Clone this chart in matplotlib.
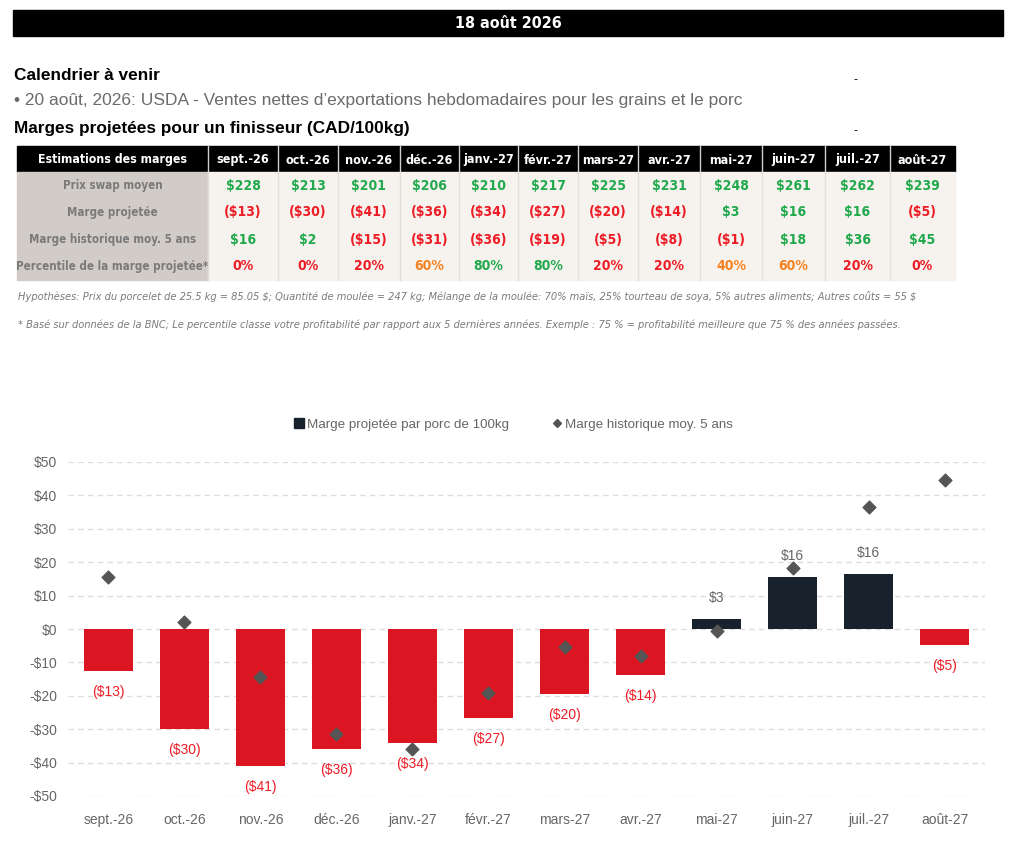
import matplotlib.pyplot as plt
from matplotlib.patches import Rectangle
from matplotlib.lines import Line2D
import numpy as np

plt.rcParams['text.parse_math'] = False

# data
months = ['sept.-26', 'oct.-26', 'nov.-26', 'déc.-26', 'janv.-27', 'févr.-27',
          'mars-27', 'avr.-27', 'mai-27', 'juin-27', 'juil.-27', 'août-27']
swap_price = [228, 213, 201, 206, 210, 217, 225, 231, 248, 261, 262, 239]
marge_table = [-13, -30, -41, -36, -34, -27, -20, -14, 3, 16, 16, -5]
hist_table = [16, 2, -15, -31, -36, -19, -5, -8, -1, 18, 36, 45]
percentile = [0, 0, 20, 60, 80, 80, 20, 20, 40, 60, 20, 0]
row_labels = ['Prix swap moyen', 'Marge projetée', 'Marge historique moy. 5 ans',
              'Percentile de la marge projetée*']

marge = [-12.6, -29.9, -41.0, -35.9, -34.1, -26.6, -19.5, -13.9, 3.1, 15.6, 16.6, -4.8]
hist = [15.6, 2.2, -14.5, -31.3, -36.0, -19.2, -5.3, -8.1, -0.5, 18.4, 36.6, 44.5]
yticks = [50, 40, 30, 20, 10, 0, -10, -20, -30, -40, -50]

GREEN = '#22a94d'
RED = '#ee1c25'
ORANGE = '#f58220'
NAVY = '#17222d'
BARRED = '#dc1523'

SANS = ['Liberation Sans', 'DejaVu Sans']


def money(v):
    return f'${v}' if v >= 0 else f'(${-v})'


def money_color(v):
    return GREEN if v >= 0 else RED


def pct_color(p):
    if p <= 20:
        return RED
    if p <= 60:
        return ORANGE
    return GREEN


fig = plt.figure(figsize=(10.24, 8.58), dpi=100)
fig.patch.set_facecolor('white')

# overlay axes in pixel coordinates for the header & table
ov = fig.add_axes([0, 0, 1, 1])
ov.set_xlim(0, 1024)
ov.set_ylim(858, 0)
ov.axis('off')

ov.add_patch(Rectangle((13, 10), 990, 26, color='black'))
ov.text(508, 23, '18 août 2026', color='white', fontsize=11.5, fontweight='bold',
        ha='center', va='center', family='DejaVu Sans', stretch='condensed')

ov.text(14, 76, 'Calendrier à venir', fontsize=12.4, fontweight='bold', va='center', family=SANS)
ov.text(14, 101, '• 20 août, 2026: USDA - Ventes nettes d’exportations hebdomadaires pour les grains et le porc',
        fontsize=12.5, color='#6b6b6b', va='center', family=SANS)
ov.text(14, 129, 'Marges projetées pour un finisseur (CAD/100kg)', fontsize=12.4,
        fontweight='bold', va='center', family=SANS)
ov.text(853, 80, '-', fontsize=9, va='center', family=SANS)
ov.text(853, 131, '-', fontsize=9, va='center', family=SANS)

# table
col_edges = [17, 208, 278, 338, 400, 459, 518, 578, 638, 700, 762, 825, 890, 955]
top, head_h, row_h = 146, 26, 27
ov.add_patch(Rectangle((col_edges[0], top), col_edges[-1] - col_edges[0], head_h, color='black'))
ov.add_patch(Rectangle((col_edges[0], top + head_h), col_edges[1] - col_edges[0], 4 * row_h,
                       color='#d1ccc7'))
ov.add_patch(Rectangle((col_edges[1], top + head_h), col_edges[-1] - col_edges[1], 4 * row_h,
                       color='#f6f3ef'))
for xe in col_edges[1:-1]:
    ov.plot([xe, xe], [top, top + head_h], color='#cfcfcf', lw=1)
    ov.plot([xe, xe], [top + head_h, top + head_h + 4 * row_h], color='#e3ded9', lw=1)

tkw = dict(fontweight='bold', ha='center', va='center', family='DejaVu Sans', stretch='condensed')
ov.text((col_edges[0] + col_edges[1]) / 2, top + head_h / 2 + 1, 'Estimations des marges',
        color='white', fontsize=8.8, **tkw)
for i, m in enumerate(months):
    cx = (col_edges[i + 1] + col_edges[i + 2]) / 2
    ov.text(cx, top + head_h / 2 + 1, m, color='white', fontsize=9, **tkw)

for r, lab in enumerate(row_labels):
    cy = top + head_h + row_h * (r + 0.5)
    ov.text((col_edges[0] + col_edges[1]) / 2, cy, lab, color='#7a7a7a', fontsize=8.3, **tkw)

for i in range(len(months)):
    cx = (col_edges[i + 1] + col_edges[i + 2]) / 2
    cells = [(f'${swap_price[i]}', GREEN),
             (money(marge_table[i]), money_color(marge_table[i])),
             (money(hist_table[i]), money_color(hist_table[i])),
             (f'{percentile[i]}%', pct_color(percentile[i]))]
    for r, (txt, col) in enumerate(cells):
        cy = top + head_h + row_h * (r + 0.5)
        ov.text(cx, cy, txt, color=col, fontsize=10, **tkw)

nkw = dict(style='italic', color='#7a7a7a', va='center', family='DejaVu Sans', stretch='condensed')
ov.text(18, 297, 'Hypothèses: Prix du porcelet de 25.5 kg = 85.05 $; Quantité de moulée = 247 kg; '
        'Mélange de la moulée: 70% maïs, 25% tourteau de soya, 5% autres aliments; Autres coûts = 55 $',
        fontsize=7.9, **nkw)
ov.text(18, 325, '* Basé sur données de la BNC; Le percentile classe votre profitabilité par rapport '
        'aux 5 dernières années. Exemple : 75 % = profitabilité meilleure que 75 % des années passées.',
        fontsize=7.9, **nkw)

# chart
ax = fig.add_axes([68 / 1024, 1 - 796 / 858, (985 - 68) / 1024, (796 - 462) / 858])
x = np.arange(len(months))
bar_colors = [NAVY if v >= 0 else BARRED for v in marge]
ax.bar(x, marge, width=0.65, color=bar_colors, zorder=2)
ax.scatter(x, hist, marker='D', s=42, color='#555555', zorder=3, clip_on=False)

for xi, v, lab in zip(x, marge, marge_table):
    if v < 0:
        ax.annotate(money(lab), (xi, v), xytext=(0, -15), textcoords='offset points',
                    ha='center', va='center', color=RED, fontsize=10, family=SANS)
    else:
        ax.annotate(money(lab), (xi, v), xytext=(0, 15), textcoords='offset points',
                    ha='center', va='center', color='#666666', fontsize=10, family=SANS)

ax.set_xlim(-0.53, len(months) - 0.47)
ax.set_ylim(-50, 50)
ax.set_yticks(yticks)
ax.set_yticklabels([f'${t}' if t >= 0 else f'-${-t}' for t in yticks])
ax.set_xticks(x)
ax.set_xticklabels(months)
ax.grid(axis='y', color='#dddddd', linestyle=(0, (4, 3)), lw=1, zorder=0)
for s in ax.spines.values():
    s.set_visible(False)
ax.tick_params(length=0, colors='#666666', labelsize=10)
ax.tick_params(axis='y', pad=8)
ax.tick_params(axis='x', pad=12)
for t in ax.get_xticklabels() + ax.get_yticklabels():
    t.set_family(SANS)

handles = [Line2D([], [], marker='s', color=NAVY, linestyle='none', markersize=7),
           Line2D([], [], marker='D', color='#555555', linestyle='none', markersize=4)]
fig.legend(handles, ['Marge projetée par porc de 100kg', 'Marge historique moy. 5 ans'],
           loc='center', bbox_to_anchor=(513 / 1024, 1 - 425 / 858), ncol=2, frameon=False,
           handletextpad=0.2, columnspacing=3.2, handlelength=0.8,
           prop={'family': SANS, 'size': 9.6}, labelcolor='#666666')

fig.savefig('out.png', dpi=100)
